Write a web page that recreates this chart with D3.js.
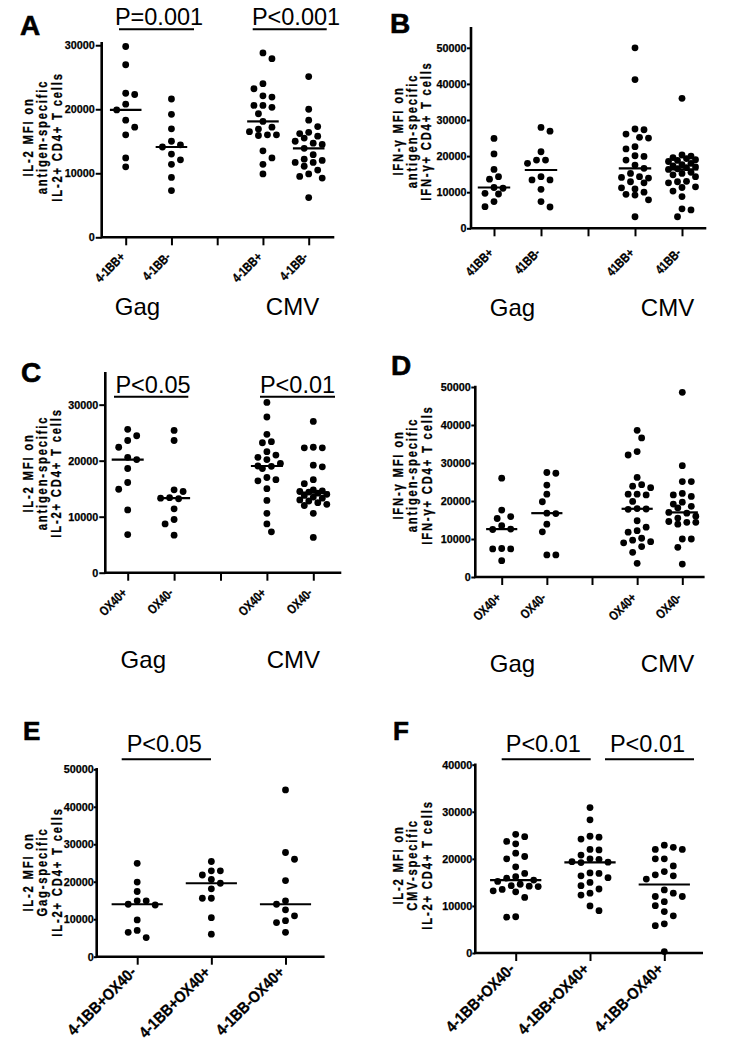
<!DOCTYPE html>
<html><head><meta charset="utf-8">
<script src="https://cdn.jsdelivr.net/npm/d3@7"></script>
<style>body{margin:0;background:#fff} svg{display:block}</style>
</head><body><svg id="c" width="738" height="1050"></svg>
<script>
// ---------- DATA ----------
const aCats = ["4-1BB+","4-1BB-","","4-1BB+","4-1BB-"];
const bCats = ["41BB+","41BB-","","41BB+","41BB-"];
const cCats = ["OX40+","OX40-","","OX40+","OX40-"];
const dCats = ["OX40+","OX40-","","OX40+","OX40-"];
const eCats = ["4-1BB+OX40-","4-1BB+OX40+","4-1BB-OX40+"];
const fCats = ["4-1BB+OX40-","4-1BB+OX40+","4-1BB-OX40+"];
const groupNames = ["Gag","CMV"];

const ticks30 = [0,10000,20000,30000];
const ticks40 = [0,10000,20000,30000,40000];
const ticks50 = [0,10000,20000,30000,40000,50000];

const aTitle = ["IL-2 MFI on","antigen-specific","IL-2+ CD4+ T cells"];
const bTitle = ["IFN-\u03b3 MFI on","antigen-specific","IFN-\u03b3+ CD4+ T cells"];
const cTitle = ["IL-2 MFI on","antigen-specific","IL-2+ CD4+ T cells"];
const dTitle = ["IFN-\u03b3 MFI on","antigen-specific","IFN-\u03b3+ CD4+ T cells"];
const eTitle = ["IL-2 MFI on","Gag-specific","IL-2+ CD4+ T cells"];
const fTitle = ["IL-2 MFI on","CMV-specific","IL-2+ CD4+ T cells"];

const aPvals = ["P=0.001","P<0.001"];
const cPvals = ["P<0.05","P<0.01"];
const ePvals = ["P<0.05"];
const fPvals = ["P<0.01","P<0.01"];

// Panel A: IL-2 MFI, 4-1BB
const aGagPos = [29800,26950,22500,22300,20800,19900,18300,17200,16000,12400,11000];
const aGagNeg = [21600,19200,16950,15000,14450,14100,13000,12100,11400,9350,7300];
const aCmvPos = [28800,27900,24000,23200,22100,21900,20600,20600,20300,19300,18100,17200,16900,16500,16000,16000,15900,13500,12400,11400,9900];
const aCmvNeg = [25100,20000,18300,17300,16400,16200,15800,15500,15000,14700,14500,13900,12900,12200,12000,11700,11700,11100,10500,9900,9500,9250,6200];
// Panel B: IFN-g MFI, 41BB
const bGagPos = [24900,20600,16300,14300,13600,11300,11100,9700,9500,7400,6000];
const bGagNeg = [27950,26900,21200,18900,18900,18000,14300,13400,13400,10800,7400,5900];
const bCmvPos = [50000,41200,27500,27300,26100,25200,25000,22600,22000,20100,19900,18900,17500,16600,15200,14300,14100,13900,12900,12600,11200,10900,10000,9400,9200,7900,3200];
const bCmvNeg = [36000,20300,20000,19600,19300,19000,18800,18500,18000,17600,17300,17000,16800,16500,16300,15500,15200,14800,14300,13000,12900,12600,11500,11300,10300,8800,5400,5100,3200];
// Panel C: IL-2 MFI, OX40
const cGagPos = [25600,24450,23600,22400,20600,20200,18600,16100,14900,11200,6800];
const cGagNeg = [25400,23600,14800,14500,13400,13300,13200,11400,9500,8700,6700];
const cCmvPos = [30400,27800,24700,23400,23200,21600,21000,20600,20200,19500,19050,19000,18600,17000,16600,16400,15000,12900,10600,8700,7300];
const cCmvNeg = [27000,22400,22300,22300,19200,18900,16600,15900,14800,14600,14500,14400,14200,14000,13800,13500,13300,13000,12800,12500,12200,12000,10600,6300];
// Panel D: IFN-g MFI, OX40
const dGagPos = [26000,17600,15900,15400,13500,12600,12500,7500,7400,7400,4300];
const dGagNeg = [27500,27300,24200,21800,19800,16800,16700,13900,11900,5800,5800];
const dCmvPos = [38600,36600,33000,32100,26200,24300,23900,23500,21800,21800,21600,19900,18000,17900,17800,14800,13100,12200,11800,10200,9700,9300,9000,8000,6500,3600];
const dCmvNeg = [48600,29300,25100,25100,22000,21600,21200,19700,19200,18600,18200,17000,16800,16000,15500,14600,14400,14400,13900,10000,10000,7800,3400];
// Panel E: Gag-specific IL-2 MFI
const eBBposOXneg = [24900,19900,17400,14900,14900,14000,13800,9800,7000,6500,5100];
const eBBposOXpos = [25400,22900,22900,21800,20600,19600,18100,15600,15600,10400,6000];
const eBBnegOXpos = [44500,27800,26000,20300,14900,14000,12500,10900,9600,9100,6500];
// Panel F: CMV-specific IL-2 MFI
const fBBposOXneg = [25200,24700,23700,23200,21200,20500,20000,18300,16900,16200,15900,15500,15200,14600,14300,14200,14100,13500,13200,13000,11800,7700,7600];
const fBBposOXpos = [30900,28300,24800,24600,24200,22000,21900,20800,20000,19900,19400,19300,19200,17000,16900,16400,16000,15000,14300,13600,12700,12300,10000,9000];
const fBBnegOXpos = [22900,22450,22000,22000,20000,20000,18500,17300,16600,16400,15700,13400,12700,12000,12000,10900,10050,8800,7900,6200,5800,300];

// ---------- LAYOUT ----------
const FONT = "'Liberation Sans', Arial, Helvetica, sans-serif";
const panels = [
 {letter:"A", lx:20, ly:35, ls:28, axisX:101.7, axisRight:333, y0:237.3, yTop:43.3, yTopVal:30300,
  x0:125.7, x1:308.7, cats:aCats, groups:[aGagPos,aGagNeg,null,aCmvPos,aCmvNeg], ticks:ticks30,
  tickLen:6, tickPad:1, xFont:13, xScale:0.8, labOff:20.5,
  title:aTitle, titleX:[33.3,47.3,61.7], titleY:137,
  glabels:[137.5,292.5], glY:315,
  pv:aPvals, pvPos:[{x:159,y:25,x1:119,x2:194,ly:29.3},{x:296,y:25,x1:252.7,x2:326.7,ly:29.3}]},
 {letter:"B", lx:390, ly:33.3, ls:28, axisX:471, axisRight:705, y0:228.3, yTop:28.3, yTopVal:55400,
  x0:494, x1:682, cats:bCats, groups:[bGagPos,bGagNeg,null,bCmvPos,bCmvNeg], ticks:ticks50,
  tickLen:4, tickPad:0.5, xFont:13, xScale:0.8, labOff:25.5,
  title:bTitle, titleX:[403.3,417.3,431.3], titleY:131,
  glabels:[512.5,667.5], glY:316, pv:[], pvPos:[]},
 {letter:"C", lx:21, ly:381.5, ls:28, axisX:105.3, axisRight:340, y0:572.7, yTop:373.3, yTopVal:35600,
  x0:127.7, x1:313.3, cats:cCats, groups:[cGagPos,cGagNeg,null,cCmvPos,cCmvNeg], ticks:ticks30,
  tickLen:6, tickPad:1, xFont:13, xScale:0.8, labOff:21,
  title:cTitle, titleX:[33,47,61], titleY:473,
  glabels:[143.3,293.3], glY:668.3,
  pv:cPvals, pvPos:[{x:153,y:392.5,x1:114,x2:188.3,ly:396.7},{x:297.5,y:392.5,x1:260,x2:335,ly:396.7}]},
 {letter:"D", lx:391, ly:375, ls:28, axisX:475.3, axisRight:703.3, y0:577, yTop:387, yTopVal:50000,
  x0:501.7, x1:682.3, cats:dCats, groups:[dGagPos,dGagNeg,null,dCmvPos,dCmvNeg], ticks:ticks50,
  tickLen:4, tickPad:0.5, xFont:13, xScale:0.8, labOff:21.5,
  title:dTitle, titleX:[403.3,417.3,431.5], titleY:475,
  glabels:[512.5,667.5], glY:671.7, pv:[], pvPos:[]},
 {letter:"E", lx:23, ly:740, ls:26, axisX:96.7, axisRight:323.3, y0:956.7, yTop:769.3, yTopVal:50000,
  x0:137.2, x1:285.5, cats:eCats, groups:[eBBposOXneg,eBBposOXpos,eBBnegOXpos], ticks:ticks50,
  tickLen:3, tickPad:0, xFont:16, xScale:0.88, labOff:16.5,
  title:eTitle, titleX:[33.3,47.3,61.5], titleY:872,
  glabels:[], glY:0,
  pv:ePvals, pvPos:[{x:164.2,y:751.5,x1:121.7,x2:211,ly:759.3}]},
 {letter:"F", lx:393, ly:740, ls:26, axisX:475.3, axisRight:701.7, y0:953, yTop:764.7, yTopVal:40000,
  x0:515.7, x1:664.3, cats:fCats, groups:[fBBposOXneg,fBBposOXpos,fBBnegOXpos], ticks:ticks40,
  tickLen:3, tickPad:0, xFont:16, xScale:0.88, labOff:17,
  title:fTitle, titleX:[403.3,417.3,431.5], titleY:865,
  glabels:[], glY:0,
  pv:fPvals, pvPos:[{x:543.3,y:751.5,x1:501.7,x2:590.7,ly:759.3},{x:647.5,y:751.5,x1:605,x2:694,ly:759.3}]}
];

const svg = d3.select("#c");
const R = 3.4, STEP = 4.5, MIND = 8.5;

// Prism-like dot layout: place sorted points, shifting sideways to avoid overlap
function swarm(vals, y, cx, maxK) {
  const pts = vals.slice().sort((a,b)=>b-a).map(v=>({v, y:y(v), dx:0}));
  const placed = [];
  let flip = 1;
  for (const p of pts) {
    const cands = [0];
    for (let k = 1; k <= maxK; k++) cands.push(flip*k*STEP, -flip*k*STEP);
    let best = 0, bestD = -1;
    for (const dx of cands) {
      const d = placed.length ? d3.min(placed, q => Math.hypot(q.dx-dx, q.y-p.y)) : Infinity;
      if (d >= MIND) { best = dx; break; }
      if (d > bestD) { bestD = d; best = dx; }
    }
    p.dx = best;
    if (best !== 0) flip = -Math.sign(best);
    placed.push(p);
  }
  return placed.map(p => ({v:p.v, cx:cx+p.dx, cy:p.y}));
}

panels.forEach(P => {
  const g = svg.append("g");
  const n = P.cats.length;
  const x = d3.scalePoint().domain(d3.range(n)).range([P.x0, P.x1]);
  const step = x.step();
  const y = d3.scaleLinear().domain([0, P.yTopVal]).range([P.y0, P.yTop]);

  g.append("text").attr("x", P.lx).attr("y", P.ly).attr("font-family", FONT)
    .attr("font-weight", "bold").attr("font-size", P.ls)
    .attr("stroke", "#000").attr("stroke-width", 0.6).text(P.letter);

  const ya = g.append("g").attr("transform", `translate(${P.axisX},0)`)
    .call(d3.axisLeft(y).tickValues(P.ticks).tickSize(P.tickLen).tickPadding(P.tickPad)
      .tickSizeOuter(0).tickFormat(d3.format("d")));
  ya.select(".domain").remove();
  ya.selectAll(".tick line").attr("stroke", "#000").attr("stroke-width", 2);
  ya.selectAll(".tick text").attr("font-family", FONT).attr("font-weight", "bold")
    .attr("font-size", 10.8).attr("fill", "#000").attr("stroke", "#000").attr("stroke-width", 0.25);

  const xa = g.append("g").attr("transform", `translate(0,${P.y0})`)
    .call(d3.axisBottom(x).tickSize(8).tickFormat(""));
  xa.select(".domain").remove();
  xa.selectAll(".tick line").attr("stroke", "#000").attr("stroke-width", 2);

  g.append("path").attr("d", `M${P.axisX},${P.yTop}V${P.y0}H${P.axisRight}`)
    .attr("fill", "none").attr("stroke", "#000").attr("stroke-width", 2.6).attr("stroke-linecap", "square");

  g.selectAll(".xl").data(d3.range(n).filter(i => P.cats[i] !== "")).join("text")
    .attr("class", "xl")
    .attr("transform", i => `translate(${x(i)},${P.y0 + P.labOff}) rotate(-45) scale(${P.xScale},1)`)
    .attr("text-anchor", "end").attr("font-family", FONT).attr("font-weight", "bold")
    .attr("font-size", P.xFont).attr("stroke", "#000").attr("stroke-width", 0.3)
    .text(i => P.cats[i]);

  P.title.forEach((t, i) => {
    g.append("text").attr("transform", `translate(${P.titleX[i]},${P.titleY}) rotate(-90) scale(0.8,1)`)
      .attr("text-anchor", "middle").attr("font-family", FONT).attr("font-weight", "bold")
      .attr("font-size", 14).attr("letter-spacing", 2.3)
      .attr("stroke", "#000").attr("stroke-width", 0.3).text(t);
  });

  const maxK = Math.round(0.3 * step / STEP);
  P.groups.forEach((vals, i) => {
    if (!vals) return;
    const pts = swarm(vals, y, x(i), maxK);
    g.selectAll(null).data(pts).join("circle")
      .attr("cx", d => d.cx).attr("cy", d => d.cy).attr("r", R).attr("fill", "#000");
    const m = d3.median(vals);
    g.append("line").attr("x1", x(i) - 0.345*step).attr("x2", x(i) + 0.345*step)
      .attr("y1", y(m)).attr("y2", y(m)).attr("stroke", "#000").attr("stroke-width", 2.2);
  });

  P.glabels.forEach((gx, i) => {
    g.append("text").attr("x", gx).attr("y", P.glY).attr("text-anchor", "middle")
      .attr("font-family", FONT).attr("font-size", 24).text(groupNames[i]);
  });

  P.pv.forEach((t, i) => {
    const q = P.pvPos[i];
    g.append("text").attr("x", q.x).attr("y", q.y).attr("text-anchor", "middle")
      .attr("font-family", FONT).attr("font-size", 23.5).text(t);
    g.append("line").attr("x1", q.x1).attr("x2", q.x2).attr("y1", q.ly).attr("y2", q.ly)
      .attr("stroke", "#000").attr("stroke-width", 2);
  });
});
</script></body></html>
